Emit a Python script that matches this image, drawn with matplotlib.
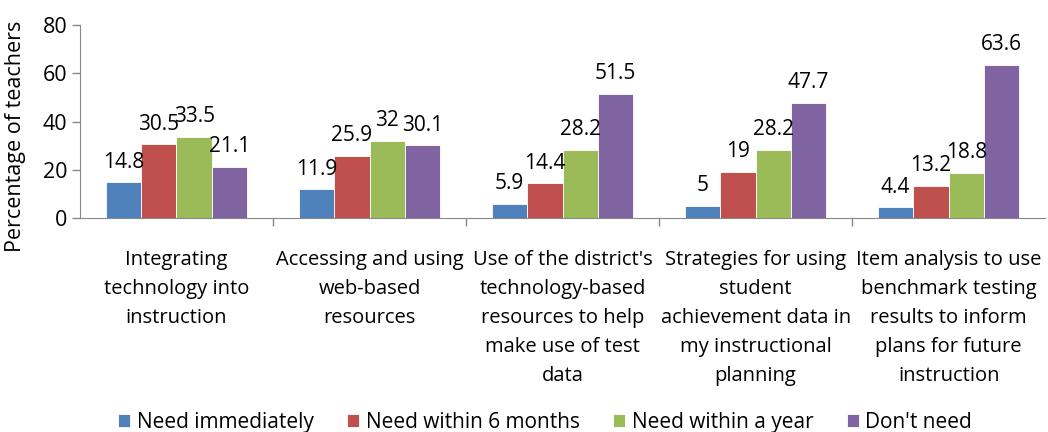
import matplotlib
matplotlib.use("Agg")
import matplotlib.pyplot as plt
import numpy as np
from matplotlib import font_manager

# Data
categories = [
    "Integrating\ntechnology into\ninstruction",
    "Accessing and using\nweb-based\nresources",
    "Use of the district's\ntechnology-based\nresources to help\nmake use of test\ndata",
    "Strategies for using\nstudent\nachievement data in\nmy instructional\nplanning",
    "Item analysis to use\nbenchmark testing\nresults to inform\nplans for future\ninstruction",
]
series_names = ["Need immediately", "Need within 6 months", "Need within a year", "Don't need"]
need_immediately = [14.8, 11.9, 5.9, 5, 4.4]
need_6_months = [30.5, 25.9, 14.4, 19, 13.2]
need_year = [33.5, 32, 28.2, 28.2, 18.8]
dont_need = [21.1, 30.1, 51.5, 47.7, 63.6]
colors = ["#4F81BD", "#C0504D", "#9BBB59", "#8064A2"]
y_ticks = [0, 20, 40, 60, 80]

available = {f.name for f in font_manager.fontManager.ttflist}
font_name = "Liberation Sans Narrow" if "Liberation Sans Narrow" in available else "Open Sans"
plt.rcParams["font.family"] = [font_name, "DejaVu Sans"]


def fmt(v):
    return f"{v:g}"


fig = plt.figure(figsize=(10.48, 4.32), dpi=100)
ax = fig.add_axes([0.0763, 0.4954, 0.921, 0.4466])

x = np.arange(len(categories))
width = 0.183
all_series = [need_immediately, need_6_months, need_year, dont_need]
handles = []
for i, (vals, color, name) in enumerate(zip(all_series, colors, series_names)):
    bars = ax.bar(x + (i - 1.5) * width, vals, width, color=color,
                  edgecolor="white", linewidth=0.6, label=name)
    handles.append(bars)
    for xi, v in zip(x + (i - 1.5) * width, vals):
        ax.annotate(fmt(v), (xi, v), xytext=(0, 7), textcoords="offset points",
                    ha="center", va="bottom", fontsize=15)

ax.set_xlim(-0.5, len(categories) - 0.5)
ax.set_ylim(0, 80)
ax.set_yticks(y_ticks)
ax.tick_params(axis="y", labelsize=15.5, length=6, width=1, color="#888888", pad=3)
ax.set_xticks(x)
ax.set_xticklabels(categories, fontsize=14.5, linespacing=1.6)
ax.tick_params(axis="x", length=0, pad=23)
ax.set_xticks(np.arange(0.5, len(categories) - 0.5, 1.0), minor=True)
ax.tick_params(axis="x", which="minor", length=6, width=1, color="#888888", direction="out")

for side in ["top", "right"]:
    ax.spines[side].set_visible(False)
ax.spines["left"].set_color("#888888")
ax.spines["bottom"].set_color("#888888")

ax.set_ylabel("Percentage of teachers", fontsize=15.5)
ax.yaxis.set_label_coords(-0.056, 0.425)

fig.legend(handles=handles, labels=series_names, loc="lower center",
           bbox_to_anchor=(0.52, -0.045), ncol=4, frameon=False, fontsize=15,
           handlelength=0.6, handleheight=0.6, handletextpad=0.3, columnspacing=1.6)

fig.savefig("out.png", dpi=100)
